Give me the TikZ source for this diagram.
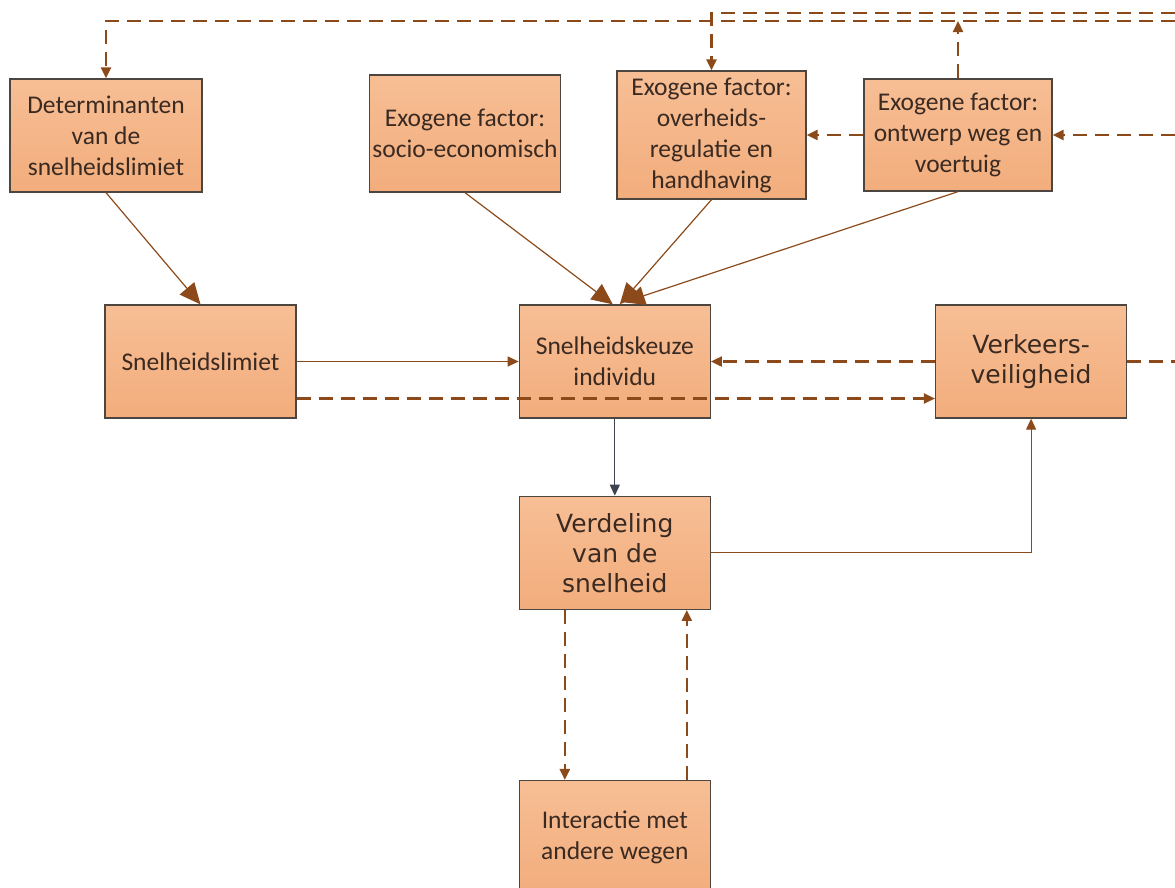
\documentclass[tikz,border=0pt]{standalone}
\usepackage{fontspec}
\setmainfont{Carlito}
\newfontfamily\bigfont{DejaVu Sans}
\usetikzlibrary{arrows.meta, positioning}
\definecolor{boxfill}{HTML}{F2AD7C}
\definecolor{boxtop}{HTML}{F7BE95}
\definecolor{boxborder}{HTML}{4D4540}
\definecolor{arrowbrown}{HTML}{8C4A1A}
\definecolor{arrowgrey}{HTML}{3F4250}
\definecolor{textbrown}{HTML}{3A2A22}

\begin{document}
\begin{tikzpicture}[
    x=1pt, y=-1pt,
    node distance=77pt and 222pt,
    box/.style={draw=boxborder, line width=1.3pt, top color=boxtop, bottom color=boxfill, minimum width=191pt, minimum height=113pt, align=center, text=textbrown, font=\fontsize{25.5}{31}\selectfont, inner sep=3pt},
    bigbox/.style={box, font=\bigfont\fontsize{25}{30}\selectfont},
    link/.style={draw=arrowbrown, line width=1.2pt, -{Triangle[length=11pt, width=10pt]}},
    biglink/.style={link, -{Triangle[length=21pt, width=19pt]}},
    dlink/.style={link, line width=2.2pt, dash pattern=on 14pt off 8pt}
]
    \useasboundingbox (0,0) rectangle (1175,887);
    \clip (0,0) rectangle (1175,887);

    % Top row: determinants and exogenous factors
    \node[box, minimum width=192pt] (det) at (106,135.5) {Determinanten\\van de\\snelheidslimiet};
    \node[box, minimum width=188pt, minimum height=117pt] (socio) at (465,133.5) {Exogene factor:\\socio-economisch};
    \node[box, minimum width=189pt, minimum height=128pt] (overheid) at (711.5,135) {Exogene factor:\\overheids-\\regulatie en\\handhaving};
    \node[box, minimum width=188pt, minimum height=112pt] (ontwerp) at (958,135) {Exogene factor:\\ontwerp weg en\\voertuig};

    % Middle row
    \node[box] (limiet) at (200.5,361.5) {Snelheidslimiet};
    \node[box, right=of limiet] (keuze) {Snelheidskeuze\\individu};
    \node[bigbox, right=224pt of keuze] (veilig) {Verkeers-\\veiligheid};

    % Lower column
    \node[bigbox, below=of keuze] (verdeling) {Verdeling\\van de\\snelheid};
    \node[box, below=170pt of verdeling] (interactie) {Interactie met\\andere wegen};

    % Loose ends at the right border
    \coordinate (edgeA) at (1175,21);
    \coordinate (edgeB) at (1175,13);
    \coordinate (edgeC) at (1175,135);
    \coordinate (edgeD) at (1175,361.5);

    % Feedback lines along the top
    \draw[dlink] (edgeA) -| (det.north);
    \draw[dlink] (edgeB) -| (overheid.north);
    \draw[dlink] (ontwerp.north) -- (ontwerp.north |- edgeA);
    \draw[dlink] (edgeC) -- (ontwerp.east);
    \draw[dlink] (ontwerp.west) -- (overheid.east);

    % Arrows into the speed choice
    \draw[biglink] (det.south) -- (limiet.north);
    \draw[biglink] (socio.south) -- ([xshift=-2pt]keuze.north);
    \draw[biglink] (overheid.south) -- ([xshift=5pt]keuze.north);
    \draw[biglink] (ontwerp.south) -- ([xshift=9pt, yshift=2pt]keuze.north);
    \draw[link] (limiet) -- (keuze);
    \draw[dlink] ([yshift=-37pt]limiet.east) -- ([yshift=-37pt]veilig.west);
    \draw[dlink] (veilig) -- (keuze);
    \draw[dlink, -] (veilig.east) -- (edgeD);

    % Distribution and interaction
    \draw[link, draw=arrowgrey] (keuze) -- (verdeling);
    \draw[link] (verdeling.east) -| (veilig.south);
    \draw[dlink] ([xshift=-50pt]verdeling.south) -- ([xshift=-50pt]interactie.north);
    \draw[dlink] ([xshift=72pt]interactie.north) -- ([xshift=72pt]verdeling.south);
\end{tikzpicture}
\end{document}
